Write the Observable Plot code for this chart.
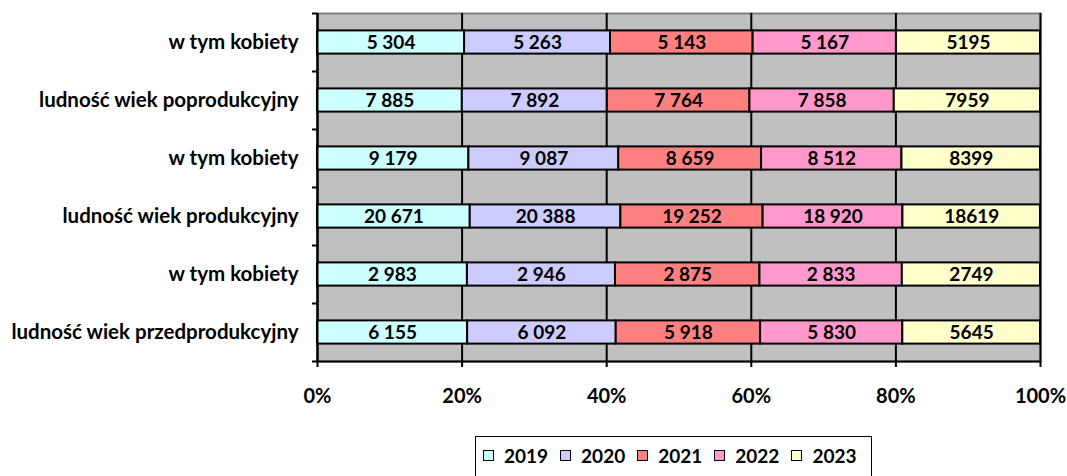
<!DOCTYPE html>
<html><head><meta charset="utf-8">
<script src="https://cdn.jsdelivr.net/npm/d3@7"></script>
<script src="https://cdn.jsdelivr.net/npm/@observablehq/plot@0.6"></script>
<style>
body{margin:0;background:#fff;font-family:Lato,"Open Sans",sans-serif;}
#wrap{position:relative;width:1067px;height:476px;overflow:hidden;}
#legend{position:absolute;left:475px;top:436px;height:44px;box-sizing:border-box;border:1.5px solid #000;background:#fff;
  display:flex;align-items:flex-start;padding:7px 3px 0 7px;font-weight:bold;font-size:19px;color:#000;}
.item{display:flex;align-items:center;margin-right:12px;}
.sw{width:9px;height:9px;border:1.5px solid #000;margin-right:10px;}
</style></head><body>
<div id="wrap"><div id="chart"></div><div id="legend"></div></div>
<script>
const categories = ["ludność wiek przedprodukcyjny","w tym kobiety","ludność wiek produkcyjny","w tym kobiety","ludność wiek poprodukcyjny","w tym kobiety"];
const years = ["2019","2020","2021","2022","2023"];
const colors = ["#CCFFFF","#CCCCFF","#FF8080","#FF99CC","#FFFFCC"];
const v2019 = [6155, 2983, 20671, 9179, 7885, 5304];
const v2020 = [6092, 2946, 20388, 9087, 7892, 5263];
const v2021 = [5918, 2875, 19252, 8659, 7764, 5143];
const v2022 = [5830, 2833, 18920, 8512, 7858, 5167];
const v2023 = [5645, 2749, 18619, 8399, 7959, 5195];
const xTicks = [0, 0.2, 0.4, 0.6, 0.8, 1];
const series = [v2019, v2020, v2021, v2022, v2023];
const spaced = [true, true, true, true, false];

const grp = d3.format(",");
const rows = [];
categories.forEach((c, i) => {
  const total = d3.sum(series, s => s[i]);
  let acc = 0;
  series.forEach((s, k) => {
    const x1 = acc / total; acc += s[i]; const x2 = acc / total;
    rows.push({i, year: years[k], value: s[i], x1, x2,
      label: spaced[k] ? grp(s[i]).replace(/,/g, " ") : String(s[i])});
  });
});
const boundaries = d3.range(0, categories.length + 1);
const centers = categories.map((c, i) => i + 0.5);

const chart = Plot.plot({
  width: 1067, height: 420,
  marginLeft: 317, marginRight: 27, marginTop: 13, marginBottom: 59,
  style: {fontFamily: "Lato, 'Open Sans', sans-serif", fontWeight: "bold", fontSize: "20px", color: "#000", background: "#fff"},
  x: {domain: [0, 1]},
  y: {domain: [0, categories.length]},
  color: {domain: years, range: colors},
  marks: [
    Plot.frame({fill: "#C0C0C0", stroke: "#808080", strokeWidth: 2}),
    Plot.ruleX(xTicks, {stroke: "#000", strokeWidth: 2}),
    Plot.rect(rows, {x1: "x1", x2: "x2", y1: d => d.i + 0.3, y2: d => d.i + 0.7, fill: "year", stroke: "#000", strokeWidth: 2}),
    Plot.text(rows, {x: d => (d.x1 + d.x2) / 2, y: d => d.i + 0.5, text: "label", fill: "#000", fontSize: 19, fontWeight: "bold"}),
    Plot.ruleY([0], {stroke: "#000", strokeWidth: 2}),
    Plot.ruleX([0], {stroke: "#000", strokeWidth: 2}),
    Plot.axisX({ticks: xTicks, tickFormat: d3.format(".0%"), tickSize: 6, tickPadding: 21, label: null, strokeWidth: 2, fontSize: 20, fontWeight: "bold"}),
    Plot.axisY({ticks: boundaries, tickFormat: () => "", tickSize: 5, label: null, strokeWidth: 2}),
    Plot.axisY({ticks: centers, tickFormat: d => categories[Math.floor(d)], tickSize: 0, tickPadding: 19, label: null, fontSize: 20.5, fontWeight: "bold"})
  ]
});
document.getElementById("chart").appendChild(chart);

const legend = document.getElementById("legend");
years.forEach((y, k) => {
  const it = document.createElement("div"); it.className = "item";
  const sw = document.createElement("div"); sw.className = "sw"; sw.style.background = colors[k];
  const t = document.createElement("span"); t.textContent = y;
  it.appendChild(sw); it.appendChild(t); legend.appendChild(it);
});
</script>
</body></html>
